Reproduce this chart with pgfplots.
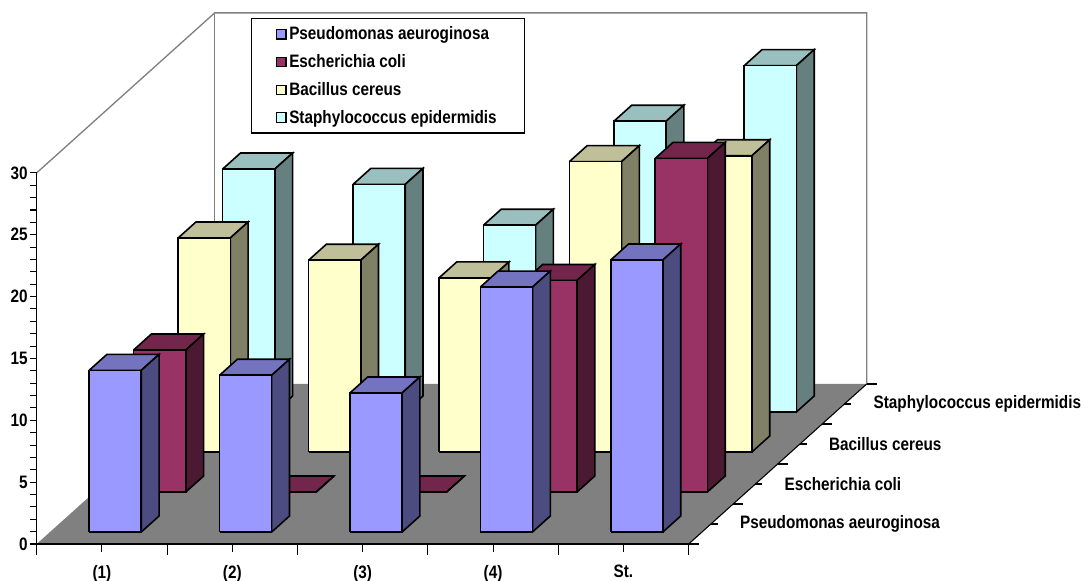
\documentclass[border=0pt]{standalone}
\usepackage{fontspec}
\setmainfont{Liberation Sans}[FakeStretch=0.85]
\usepackage{pgfplots}
\pgfplotsset{compat=1.18}

\definecolor{cPseudo}{HTML}{9999FF}
\definecolor{cEsch}{HTML}{993366}
\definecolor{cBac}{HTML}{FFFFCC}
\definecolor{cStaph}{HTML}{CCFFFF}
\definecolor{cFloor}{HTML}{808080}
\newcommand{\lblfont}{\fontsize{13.5}{15}\selectfont\bfseries}

% one bar: x left, x right, y front, y back, value, colour
\newcommand{\threedbar}[6]{%
  \addplot3[draw=black,line width=1.2pt,fill=#6!75!black] coordinates {(#1,#3,#5) (#2,#3,#5) (#2,#4,#5) (#1,#4,#5) (#1,#3,#5)};
  \addplot3[draw=black,line width=1.2pt,fill=#6!50!black] coordinates {(#2,#3,0) (#2,#4,0) (#2,#4,#5) (#2,#3,#5) (#2,#3,0)};
  \addplot3[draw=black,line width=1.2pt,fill=#6] coordinates {(#1,#3,0) (#2,#3,0) (#2,#3,#5) (#1,#3,#5) (#1,#3,0)};
}
% one row of five bars at depth y front, y back
\newcommand{\barrow}[8]{%
  \threedbar{0.3}{0.7}{#1}{#2}{#3}{#8}
  \threedbar{1.3}{1.7}{#1}{#2}{#4}{#8}
  \threedbar{2.3}{2.7}{#1}{#2}{#5}{#8}
  \threedbar{3.3}{3.7}{#1}{#2}{#6}{#8}
  \threedbar{4.3}{4.7}{#1}{#2}{#7}{#8}
}

\begin{document}
\begin{tikzpicture}
\path[use as bounding box] (-27.5pt,-27.75pt) rectangle (786.25pt,408pt);

\begin{axis}[
  at={(0,0)}, anchor=origin,
  x={(97.8pt,0pt)}, y={(33.375pt,30pt)}, z={(0pt,9.2775pt)},
  xmin=0,xmax=5,ymin=0,ymax=4,zmin=0,zmax=30,
  hide axis, clip=false,
]
  % floor and walls
  \addplot3[fill=cFloor,draw=none] coordinates {(0,0,0) (5,0,0) (5,4,0) (0,4,0) (0,0,0)};
  \addplot3[draw=gray,line width=1pt] coordinates {(0,0,30) (0,4,30) (5,4,30) (5,4,0)};
  \addplot3[draw=gray,line width=1pt] coordinates {(0,4,30) (0,4,0)};

  % back to front
  \barrow{3.3}{3.7}{19.64}{18.4}{15.1}{23.5}{28.0}{cStaph}
  \barrow{2.3}{2.7}{17.3}{15.5}{14.07}{23.47}{23.95}{cBac}
  \barrow{1.3}{1.7}{11.48}{0}{0}{17.1}{26.97}{cEsch}
  \barrow{0.3}{0.7}{13.07}{12.67}{11.24}{19.8}{21.99}{cPseudo}

  % depth axis
  \addplot3[draw=black,line width=.8pt] coordinates {(5,0,0) (5,4,0)};
  \pgfplotsinvokeforeach{0,1,2,3,4}{
    \addplot3[draw=black,line width=.8pt] coordinates {(5,#1,0) (5.077,#1,0)};
  }
  \pgfplotsinvokeforeach{0.5,1.5,2.5,3.5}{
    \addplot3[draw=black,line width=.8pt] coordinates {(5,#1,0) (5.054,#1,0)};
  }
  \node[anchor=west,font=\lblfont,inner sep=0pt] at (axis cs:5.222,0.5,0) {Pseudomonas aeuroginosa};
  \node[anchor=west,font=\lblfont,inner sep=0pt] at (axis cs:5.222,1.5,0) {Escherichia coli};
  \node[anchor=west,font=\lblfont,inner sep=0pt] at (axis cs:5.222,2.5,0) {Bacillus cereus};
  \node[anchor=west,font=\lblfont,inner sep=0pt] at (axis cs:5.222,3.5,0) {Staphylococcus epidermidis};
\end{axis}

\begin{axis}[
  at={(0,0)}, anchor=south west,
  scale only axis, width=489pt, height=278.325pt,
  xmin=0,xmax=5,ymin=0,ymax=30,
  axis x line=bottom, axis y line=left,
  axis line style={-,black,line width=.8pt},
  xtick={0,1,2,3,4,5}, minor x tick num=1,
  x tick label as interval,
  xticklabels={(1),(2),(3),(4),St.},
  ytick={0,5,10,15,20,25,30}, minor y tick num=4,
  tick align=outside, tick style={black,line width=.8pt},
  major tick length=5.25pt, minor tick length=4.75pt,
  major x tick style={yscale=1.55}, minor x tick style={yscale=1.27},
  /pgf/number format/assume math mode=true,
  tick label style={font=\lblfont},
  xticklabel style={yshift=-7pt},
  yticklabel style={xshift=2pt},
  legend image code/.code={\draw[#1,line width=.9pt] (0pt,-3.5pt) rectangle (7pt,3.5pt);},
  legend style={at={(rel axis cs:0.328,1.4165)},anchor=north west,draw=black,line width=.8pt,
    font=\lblfont,inner xsep=18.75pt,inner ysep=4pt,row sep=5.5pt,legend cell align=left},
]
  \addlegendimage{fill=cPseudo,draw=black}
  \addlegendentry{Pseudomonas aeuroginosa}
  \addlegendimage{fill=cEsch,draw=black}
  \addlegendentry{Escherichia coli}
  \addlegendimage{fill=cBac,draw=black}
  \addlegendentry{Bacillus cereus}
  \addlegendimage{fill=cStaph,draw=black}
  \addlegendentry{Staphylococcus epidermidis}
\end{axis}
\end{tikzpicture}
\end{document}
